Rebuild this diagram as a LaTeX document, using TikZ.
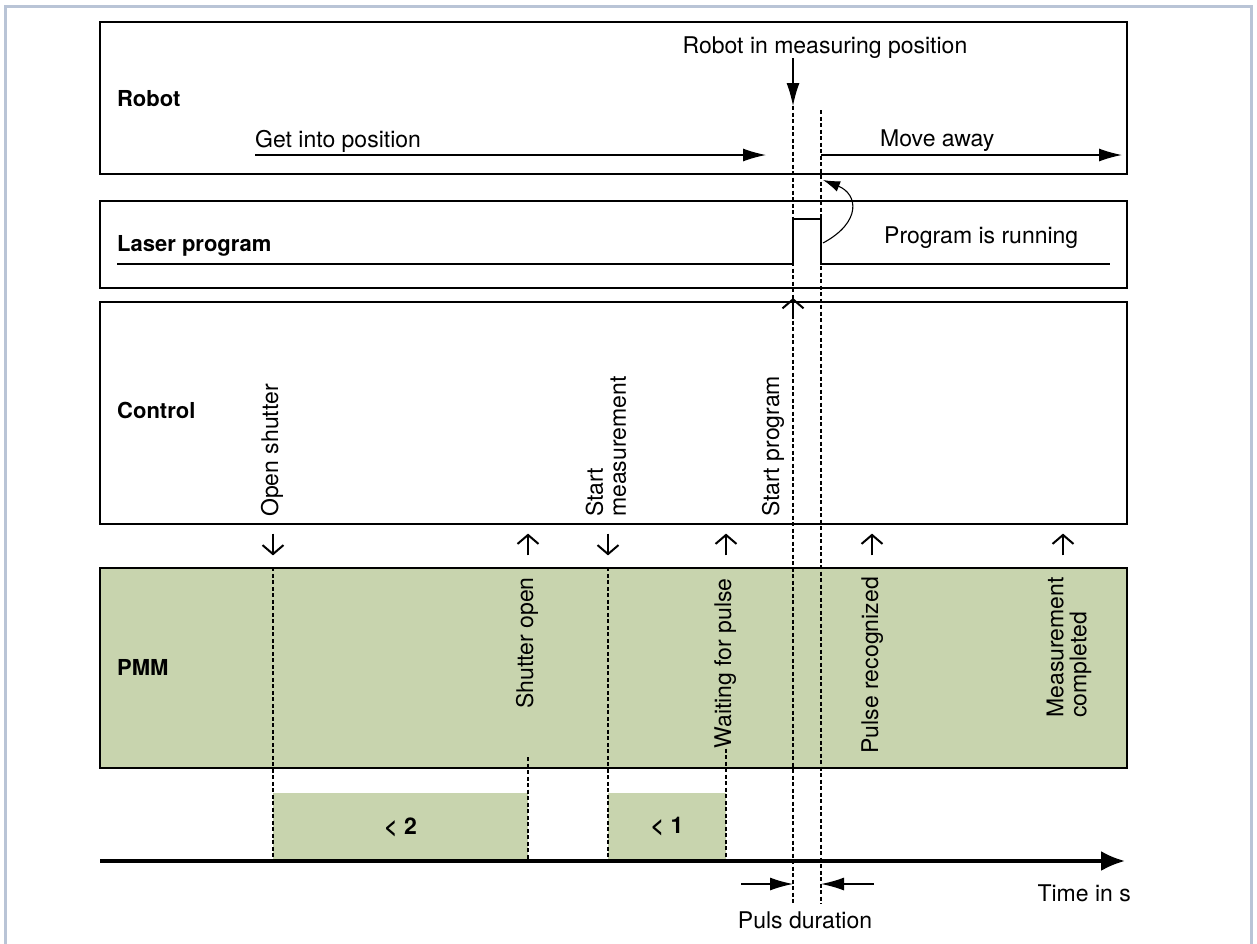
\documentclass[tikz,border=0pt]{standalone}
\usepackage{fontspec}
\setmainfont{TeX Gyre Heros}
\usepackage{xcolor}
\usetikzlibrary{arrows.meta}
\definecolor{pmmgreen}{HTML}{C8D4AE}
\definecolor{framegray}{HTML}{B9C4D6}

\begin{document}
\begin{tikzpicture}[x=1pt, y=-1pt, font=\fontsize{23}{23}\selectfont,
    lane/.style={draw, line width=1.2pt, minimum width=1027pt, inner sep=0pt},
    lanelabel/.style={font=\fontsize{22}{23}\selectfont\bfseries, anchor=base west, inner sep=0pt},
    txt/.style={anchor=base west, inner sep=0pt},
    vtxt/.style={rotate=90, inner sep=0pt, align=left},
    durbar/.style={fill=pmmgreen, minimum width=#1, minimum height=68pt, inner sep=0pt,
        font=\fontsize{23}{23}\selectfont\bfseries},
    sig/.style={line width=2pt, -{Straight Barb[length=9pt,width=21pt]}},
    marker/.style={dash pattern=on 4pt off 2.5pt, line width=1.1pt},
    move/.style={line width=1.3pt, -{Latex[length=23pt,width=13pt]}},
  ]
  \useasboundingbox (0,0) rectangle (1257,943);
  \draw[framegray, line width=3pt] (5,960) -- (5,6) -- (1251,6) -- (1251,960);

  % lanes
  \node[lane, minimum height=152pt] (robot) at (613.5,98) {};
  \node[lane, minimum height=87pt] (laser) at (613.5,244.5) {};
  \node[lane, minimum height=222pt] (control) at (613.5,413) {};
  \node[lane, minimum height=200pt, fill=pmmgreen] (pmm) at (613.5,668) {};
  \node[lanelabel] (robotlbl) at (117,106) {Robot};
  \node[lanelabel] (laserlbl) at (117,251) {Laser program};
  \node[lanelabel] (controllbl) at (117,418) {Control};
  \node[lanelabel] (pmmlbl) at (117,675) {PMM};

  % time marks
  \coordinate (tzero) at (100,861);
  \coordinate (tend) at (1125,861);
  \coordinate (tOpen) at (273,861);
  \coordinate (tShut) at (528,861);
  \coordinate (tShutTop) at (528,757);
  \coordinate (tStart) at (608,861);
  \coordinate (tWait) at (726,861);
  \coordinate (tRec) at (872,861);
  \coordinate (tDone) at (1063,861);
  \coordinate (posA) at (793,106);
  \coordinate (posB) at (821,110);
  \coordinate (tPulseA) at (793,904);
  \coordinate (tPulseB) at (821,904);

  % robot
  \node[anchor=base, inner sep=0pt] (inpos) at (825,53) {Robot in measuring position};
  \draw[move] (inpos.south -| posA) -- (posA);
  \node[txt] (getpos) at (255,147) {Get into position};
  \coordinate (getend) at (766,155);
  \draw[move] (getpos.south west |- getend) -- (getend);
  \node[txt] (moveaway) at (880,146) {Move away};
  \coordinate (moveend) at (1122,155);
  \draw[move] (posB |- moveend) -- (moveend);

  % laser program
  \coordinate (lasL) at (117,264);
  \coordinate (lasR) at (1110,264);
  \draw[line width=2.4pt] (lasL) -- (lasL -| posA) -- ++(0,-45) -| (lasL -| posB) -- (lasR);
  \node[txt] (running) at (884,243) {Program is running};
  \coordinate (curA) at (823,243);
  \coordinate (curB) at (823,180);
  \draw[line width=1.1pt, -{Latex[length=17pt,width=11pt]}] (curA) .. controls (862,222) and (858,194) .. (curB);
  \coordinate (startup) at (793,298);
  \draw[sig] ([yshift=-21pt]startup) -- (startup);

  % control
  \node[vtxt, anchor=base west] (openshut) at (278,517) {Open shutter};
  \node[vtxt, anchor=west] (startmeas) at (606,517) {Start\\measurement};
  \node[vtxt, anchor=base west] (startprog) at (779,517) {Start program};
  \foreach \t in {tOpen,tStart}
    \draw[sig] ([yshift=-9pt]control.south -| \t) -- ([yshift=12pt]pmm.north -| \t);
  \foreach \t in {tShut,tWait,tRec,tDone}
    \draw[sig] ([yshift=12pt]pmm.north -| \t) -- ([yshift=-9pt]control.south -| \t);

  % pmm
  \node[vtxt, anchor=base east] (shutopen) at (533,577) {Shutter open};
  \node[vtxt, anchor=base east] (waitpulse) at (731,578) {Waiting for pulse};
  \node[vtxt, anchor=base east] (pulserec) at (878,577) {Pulse recognized};
  \node[vtxt, anchor=east] (measdone) at (1069,577) {Measurement\\completed};

  % durations
  \node[durbar=255pt] (bartwo) at (400.5,827) {< 2};
  \node[durbar=118pt] (barone) at (667,827) {< 1};
  \draw[marker] (pmm.north -| tOpen) -- (tOpen);
  \draw[marker] (tShutTop) -- (tShut);
  \draw[marker] (pmm.north -| tStart) -- (tStart);
  \draw[marker] (waitpulse.west -| tWait) -- (tWait);
  \draw[marker] (posA) -- (tPulseA);
  \draw[marker] (posB) -- (tPulseB);

  % time axis
  \draw[line width=3.2pt, -{Latex[length=24pt,width=20pt]}] (tzero) -- (tend);
  \coordinate (pdL) at (741,884);
  \coordinate (pdR) at (874,884);
  \draw[move] (pdL) -- (tPulseA |- pdL);
  \draw[move] (pdR) -- (tPulseB |- pdL);
  \node[anchor=base, inner sep=0pt] (pulsdur) at (805,928) {Puls duration};
  \node[anchor=base east, inner sep=0pt] (timelbl) at (1131,901) {Time in s};
\end{tikzpicture}
\end{document}
